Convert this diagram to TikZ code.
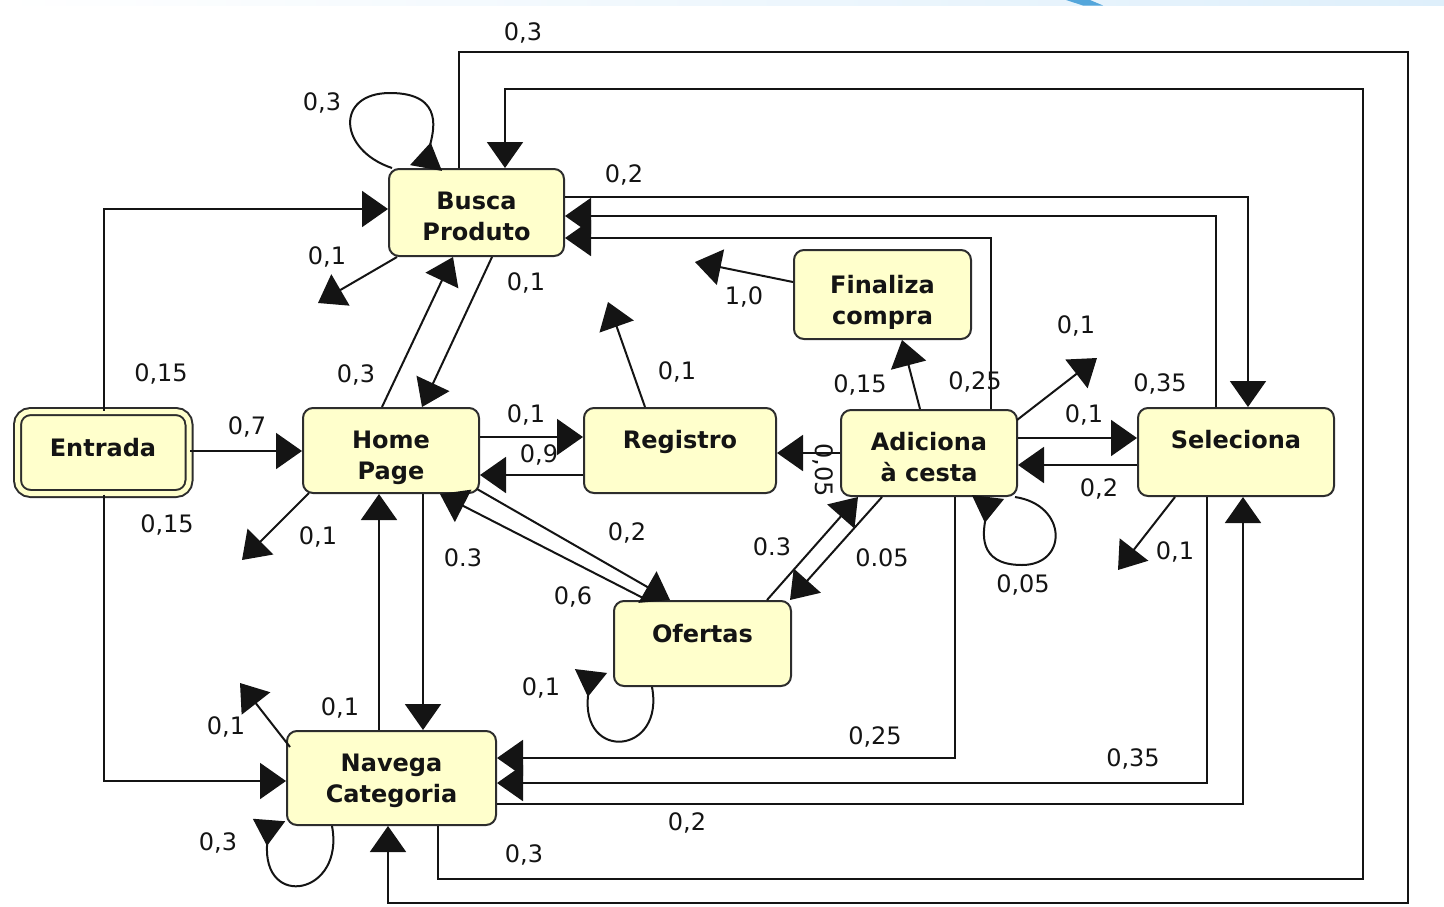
\documentclass[tikz,border=0pt]{standalone}
\usepackage{fontspec}
\setmainfont{DejaVu Sans}
\usetikzlibrary{arrows.meta}

\definecolor{boxfill}{RGB}{255,255,204}
\definecolor{boxline}{RGB}{45,45,45}
\definecolor{ink}{RGB}{20,20,20}
\definecolor{bandblue}{RGB}{222,239,251}
\definecolor{swoosh}{RGB}{84,166,219}

\begin{document}
\begin{tikzpicture}[x=1pt,y=-1pt,
  state/.style={draw=boxline, line width=2pt, fill=boxfill, rounded corners=10pt, inner sep=0pt},
  title/.style={font=\fontsize{24}{31}\selectfont\bfseries, align=center, anchor=north, inner sep=0pt, text=ink},
  prob/.style={font=\fontsize{24}{29}\selectfont, inner sep=0pt, text=ink},
  link/.style={draw=ink, line width=2pt, -{Triangle[length=26pt,width=36pt]}},
  selfloop/.style={draw=ink, line width=2pt, -{Triangle[length=26pt,width=32pt,reversed]}},
]
\useasboundingbox (0,0) rectangle (1444,906);

% header strip
\shade[left color=white, right color=bandblue] (0,0) rectangle (1444,5.5);
\fill[swoosh] (1066,0) -- (1090,0) -- (1103,5.5) -- (1083,5.5) -- cycle;

% states
\node[state, draw=boxline, double=boxfill, double distance=5pt, rounded corners=13pt,
      minimum width=171.5pt, minimum height=82pt] (entrada) at (103.25,452.5) {};
\node[state, minimum width=175pt, minimum height=87pt] (busca)    at (476.5,212.5) {};
\node[state, minimum width=176pt, minimum height=85pt] (home)     at (391,450.5) {};
\node[state, minimum width=192pt, minimum height=85pt] (registro) at (680,450.5) {};
\node[state, minimum width=177pt, minimum height=89pt] (finaliza) at (882.5,294.5) {};
\node[state, minimum width=176pt, minimum height=86pt] (adiciona) at (929,453) {};
\node[state, minimum width=196pt, minimum height=88pt] (selec)    at (1236,452) {};
\node[state, minimum width=177pt, minimum height=85pt] (ofertas)  at (702.5,643.5) {};
\node[state, minimum width=209pt, minimum height=94pt] (navega)   at (391.5,778) {};

% state names
\node[title, anchor=center] (entrada-t) at (103,448) {Entrada};
\node[title] (busca-t)    at (476.5,192) {Busca\\Produto};
\node[title] (home-t)     at (391,431)   {Home\\Page};
\node[title] (registro-t) at (680,430)   {Registro};
\node[title] (finaliza-t) at (882.5,275) {Finaliza\\compra};
\node[title] (adiciona-t) at (929,432)   {Adiciona\\à cesta};
\node[title] (selec-t)    at (1236,430)  {Seleciona};
\node[title] (ofertas-t)  at (702.5,624) {Ofertas};
\node[title] (navega-t)   at (391.5,754) {Navega\\Categoria};

% free ends of the exit transitions
\coordinate (bx) at (318,303);
\coordinate (hx) at (242,560);
\coordinate (nx) at (240,683);
\coordinate (rx) at (608,302);
\coordinate (fx) at (695,262);
\coordinate (ax) at (1097,358);
\coordinate (sx) at (1118,570);

% Entrada
\draw[link] (entrada.east |- 0,451) -- (home.west |- 0,451);
\draw[link] (104,0 |- entrada.north) |- (busca.west |- 0,209);
\draw[link] (104,0 |- entrada.south) |- (navega.west |- 0,781);

% Home Page
\draw[link] (home.east |- 0,437) -- (registro.west |- 0,437);
\draw[link] (registro.west |- 0,475) -- (home.east |- 0,475);
\draw[link] (382,0 |- home.north) -- (453,0 |- busca.south);
\draw[link] (492,0 |- busca.south) -- (422,0 |- home.north);
\draw[link] (423,0 |- home.south) -- (423,0 |- navega.north);
\draw[link] (379,0 |- navega.north) -- (379,0 |- home.south);
\draw[link] ([shift={(-3,-5)}]home.south east) -- (670,0 |- ofertas.north);
\draw[link] (647,0 |- ofertas.north) -- (440,0 |- home.south);
\draw[link] ([shift={(7,-1)}]home.south west) -- (hx);

% Busca Produto
\draw[link] ([shift={(9,0)}]busca.south west) -- (bx);
\draw[selfloop] (392,0 |- busca.north) .. controls (338,150) and (335,93) .. (390,93)
      .. controls (447,93) and (432,135) .. (426,0 |- busca.north);
\draw[link] (busca.east |- 0,197) -| (1248,0 |- selec.north);
\draw[link] (459,0 |- busca.north) |- (1408,52) |- (388,903) -- (388,0 |- navega.south);

% Navega Categoria
\draw[link] ([shift={(4,17)}]navega.north west) -- (nx);
\draw[selfloop] (332,0 |- navega.south) .. controls (345,895) and (262,910)
      .. ([shift={(-17,-6)}]navega.south west);
\draw[link] (438,0 |- navega.south) |- (1363,879) |- (505,89) -- (505,0 |- busca.north);
\draw[link] (navega.east |- 0,804) -| (1243,0 |- selec.south);

% Registro and Finaliza compra
\draw[link] (645,0 |- registro.north) -- (rx);
\draw[link] (finaliza.west |- 0,282) -- (fx);

% Adiciona a cesta
\draw[link] (920,0 |- adiciona.north) -- (902,0 |- finaliza.south);
\draw[link] (adiciona.west |- 0,453) -- (registro.east |- 0,453);
\draw[link] ([shift={(-1,11)}]adiciona.north east) -- (ax);
\draw[link] (adiciona.east |- 0,438) -- (selec.west |- 0,438);
\draw[link] (selec.west |- 0,465) -- (adiciona.east |- 0,465);
\draw[link] (882,0 |- adiciona.south) -- (790,0 |- ofertas.north);
\draw[link] (991,0 |- adiciona.north) |- (busca.east |- 0,238);
\draw[link] (955,0 |- adiciona.south) |- (navega.east |- 0,758);
\draw[selfloop] (1015,0 |- adiciona.south) .. controls (1068,505) and (1068,565) .. (1022,565)
      .. controls (976,565) and (984,530) .. (988,0 |- adiciona.south);

% Ofertas
\draw[link] (767,0 |- ofertas.north) -- (858,0 |- adiciona.south);
\draw[selfloop] (652,0 |- ofertas.south) .. controls (665,755) and (580,762)
      .. ([shift={(-22,-16)}]ofertas.south west);

% Seleciona
\draw[link] (1216,0 |- selec.north) |- (busca.east |- 0,216);
\draw[link] (1207,0 |- selec.south) |- (navega.east |- 0,783);
\draw[link] (1175,0 |- selec.south) -- (sx);

% transition probabilities
\node[prob] (p01) at (523,33)   {0,3};
\node[prob] (p02) at (322,103)  {0,3};
\node[prob] (p03) at (624,175)  {0,2};
\node[prob] (p04) at (327,257)  {0,1};
\node[prob] (p05) at (526,283)  {0,1};
\node[prob] (p06) at (744,297)  {1,0};
\node[prob] (p07) at (677,372)  {0,1};
\node[prob] (p08) at (161,374)  {0,15};
\node[prob] (p09) at (356,375)  {0,3};
\node[prob] (p10) at (860,385)  {0,15};
\node[prob] (p11) at (975,382)  {0,25};
\node[prob] (p12) at (1076,326) {0,1};
\node[prob] (p13) at (1160,384) {0,35};
\node[prob] (p14) at (247,427)  {0,7};
\node[prob] (p15) at (526,415)  {0,1};
\node[prob] (p16) at (539,455)  {0,9};
\node[prob] (p17) at (1084,415) {0,1};
\node[prob] (p18) at (1099,489) {0,2};
\node[prob, rotate=-90] (p19) at (823,470) {0,05};
\node[prob] (p20) at (167,525)  {0,15};
\node[prob] (p21) at (318,537)  {0,1};
\node[prob] (p22) at (463,558)  {0.3};
\node[prob] (p23) at (627,533)  {0,2};
\node[prob] (p24) at (573,597)  {0,6};
\node[prob] (p25) at (772,547)  {0.3};
\node[prob] (p26) at (882,558)  {0.05};
\node[prob] (p27) at (1023,585) {0,05};
\node[prob] (p28) at (1175,552) {0,1};
\node[prob] (p29) at (541,688)  {0,1};
\node[prob] (p30) at (226,727)  {0,1};
\node[prob] (p31) at (340,708)  {0,1};
\node[prob] (p32) at (875,737)  {0,25};
\node[prob] (p33) at (1133,759) {0,35};
\node[prob] (p34) at (687,823)  {0,2};
\node[prob] (p35) at (524,855)  {0,3};
\node[prob] (p36) at (218,843)  {0,3};
\end{tikzpicture}
\end{document}
